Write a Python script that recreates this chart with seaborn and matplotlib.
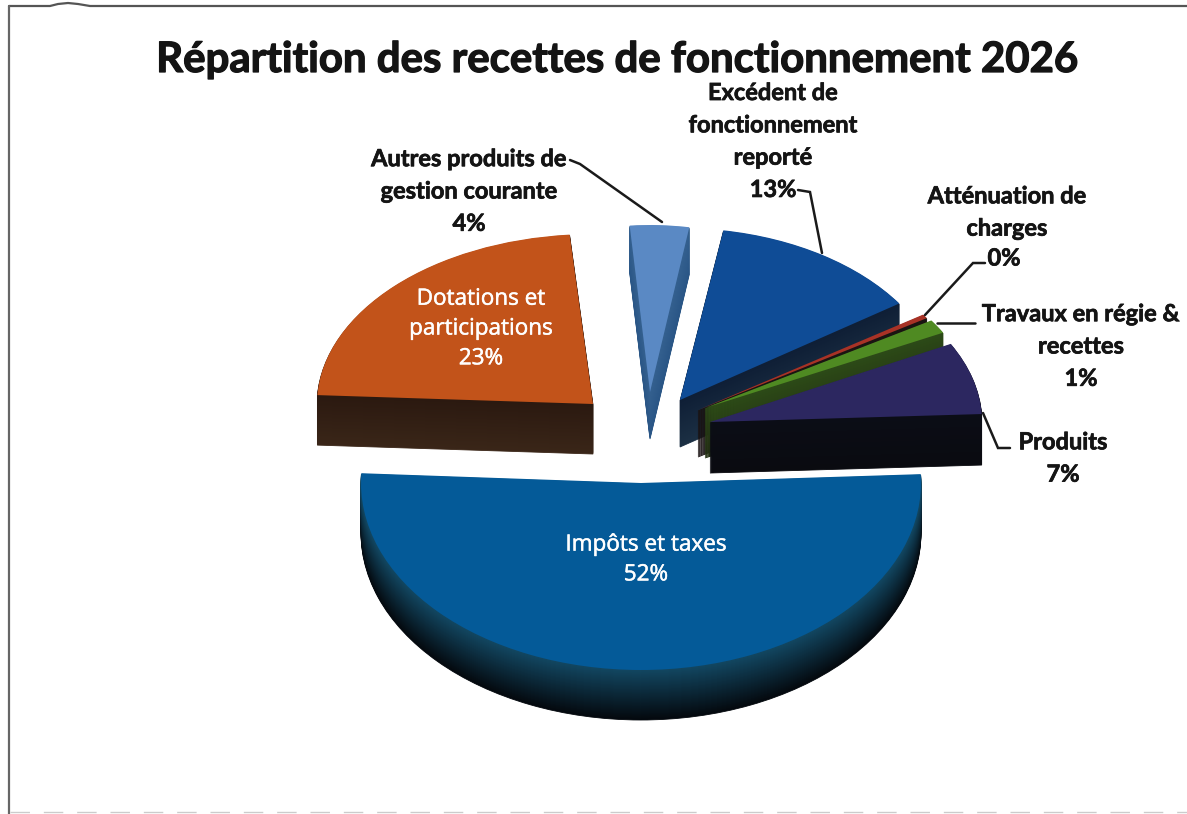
import matplotlib
matplotlib.use("Agg")
import matplotlib.pyplot as plt
import matplotlib.patheffects as pe
from matplotlib.patches import Wedge
from matplotlib.transforms import Affine2D
import seaborn as sns

sns.set_theme(style="white")
plt.rcParams["font.family"] = ["Lato", "DejaVu Sans"]

TITLE = "Répartition des recettes de fonctionnement 2026"
categories = ["Impôts et taxes", "Produits", "Travaux en régie & recettes",
              "Atténuation de charges", "Excédent de fonctionnement reporté",
              "Autres produits de gestion courante", "Dotations et participations"]
values = [52, 7, 1.4, 0.4, 13, 4, 23]

top_colors = ["#045a98", "#2c2760", "#4f8a22", "#a83226", "#0f4c96", "#5a89c4", "#c2531a"]
side_top = ["#124660", "#0b0d16", "#2c4a17", "#1a1412", "#0f1f36", "#34608f", "#2b1910"]
side_bottom = ["#04090e", "#0a0b10", "#222e12", "#181012", "#1c3044", "#2a5686", "#3a2618"]

# geometry per slice: exploded apex (px), radii (px), depth (px)
apex = [(641, 483), (710, 422), (705, 408), (698, 410), (680, 400), (650, 392), (593, 404)]
radii = [(280, 187), (272, 168), (269, 162), (272, 170), (265, 172), (240, 167), (276, 170)]
depth = [50, 51, 50, 47, 47, 47, 50]
draw_order = [6, 5, 4, 3, 2, 1, 0]

fig = plt.figure(figsize=(11.87, 8.14), dpi=100, facecolor="white")
ax = fig.add_axes([0, 0, 1, 1])
wedges, _ = ax.pie(values, startangle=177, radius=1, colors=top_colors,
                   wedgeprops=dict(linewidth=0, edgecolor="none"))
ax.set_aspect("auto")
ax.set_xlim(0, 1187)
ax.set_ylim(814, 0)
ax.set_axis_off()

z = 2
for i in draw_order:
    w = wedges[i]
    (cx, cy), (rx, ry), d = apex[i], radii[i], depth[i]
    shades = sns.blend_palette([side_top[i], side_bottom[i]], d)
    for k in range(d, 0, -1):
        s = Wedge((0, 0), 1, w.theta1, w.theta2, facecolor=shades[k - 1],
                  edgecolor=shades[k - 1], linewidth=0.6, zorder=z,
                  transform=Affine2D().scale(rx, -ry).translate(cx, cy + k) + ax.transData)
        ax.add_patch(s)
        z += 1
    w.set_transform(Affine2D().scale(rx, -ry).translate(cx, cy) + ax.transData)
    w.set_zorder(z)
    z += 1

ZT = z + 10
ax.text(616, 60, TITLE, ha="center", va="center", fontsize=30.2, fontweight="bold",
        color="#141414", zorder=ZT,
        path_effects=[pe.withStroke(linewidth=0.9, foreground="#141414")])

thick = [pe.withStroke(linewidth=0.5, foreground="#141414")]
bold = dict(ha="center", va="center", fontsize=17, fontweight="bold", color="#141414",
            linespacing=1.49, zorder=ZT, path_effects=thick)
ax.text(773, 141, "Excédent de\nfonctionnement\nreporté\n13%", **bold)
ax.text(469, 191, "Autres produits de\ngestion courante\n4%", **bold)
ax.text(1007, 212, "Atténuation de\ncharges", **bold)
ax.text(1004, 258, "0%", **bold)
ax.text(1081, 346, "Travaux en régie &\nrecettes\n1%", **bold)
ax.text(1063, 458, "Produits\n7%", **bold)

light = dict(ha="center", va="center", fontsize=16.2, color="white", family="Open Sans",
             linespacing=1.55, zorder=ZT,
             path_effects=[pe.withStroke(linewidth=0.35, foreground="white")])
ax.text(481, 329, "Dotations et\nparticipations\n23%", **light)
ax.text(646, 560, "Impôts et taxes\n52%", **light)

leaders = [
    ([570, 580, 662], [160, 164, 222]),
    ([798, 810, 822], [190, 192, 253]),
    ([985, 973, 925], [263, 263, 315]),
    ([937, 975], [323, 323]),
    ([983, 998, 1010], [413, 448, 448]),
]
for xs, ys in leaders:
    ax.plot(xs, ys, color="#1a1a1a", lw=1.8, zorder=ZT, solid_joinstyle="miter")

# page frame of the scan
ax.plot([9, 50, 58, 68, 78, 90, 1187], [6, 6, 4, 3, 4, 6, 6], color="#555555", lw=1.6, zorder=ZT)
ax.plot([9, 9], [6, 814], color="#666666", lw=1.6, zorder=ZT)
ax.plot([10, 1187], [812, 812], color="#cccccc", lw=1, ls=(0, (14, 10)), zorder=ZT)

fig.savefig("out.png", dpi=100, facecolor="white")
